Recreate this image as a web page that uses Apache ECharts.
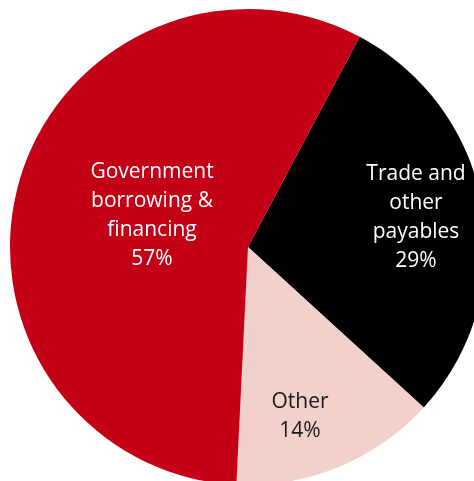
<!DOCTYPE html>
<html>
<head>
<meta charset="utf-8">
<script src="https://cdn.jsdelivr.net/npm/echarts@6/dist/echarts.min.js"></script>
<style>
  html, body { margin: 0; padding: 0; background: #ffffff; }
  #chart { width: 474px; height: 481px; }
</style>
</head>
<body>
<div id="chart"></div>
<script>
// Slices in clockwise order, starting at the upper right
const categories = ['Trade and\nother\npayables', 'Other', 'Government\nborrowing &\nfinancing'];
const shares = [29, 14, 57];

const sliceColors = ['#000000', '#f2d0cc', '#c40016'];
const labelColors = ['#ffffff', '#1a1a1a', '#ffffff'];
// label centre relative to the pie centre, in pixels
const labelOffsets = [[168, -29], [52, 170], [-96, -31]];

const pieCenter = [248, 247];

const chart = echarts.init(document.getElementById('chart'), null, { renderer: 'canvas' });

chart.setOption({
  animation: false,
  backgroundColor: '#ffffff',
  series: [{
    type: 'pie',
    center: pieCenter,
    radius: [0, 238],
    startAngle: 62,
    clockwise: true,
    avoidLabelOverlap: false,
    itemStyle: { borderWidth: 0 },
    label: {
      show: true,
      position: 'inside',
      fontFamily: '"Open Sans", "Noto Sans", sans-serif',
      fontSize: 21,
      lineHeight: 29,
      align: 'center',
      verticalAlign: 'middle',
      formatter: p => p.name + '\n' + p.value + '%'
    },
    labelLine: { show: false },
    labelLayout: p => ({
      x: pieCenter[0] + labelOffsets[p.dataIndex][0],
      y: pieCenter[1] + labelOffsets[p.dataIndex][1],
      align: 'center',
      verticalAlign: 'middle'
    }),
    emphasis: { disabled: true },
    data: categories.map((name, i) => ({
      name: name,
      value: shares[i],
      itemStyle: { color: sliceColors[i] },
      label: { color: labelColors[i] }
    }))
  }]
});
</script>
</body>
</html>
